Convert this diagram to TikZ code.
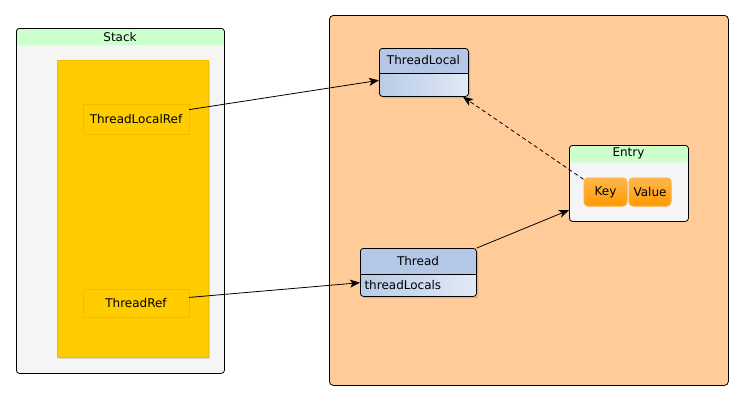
\documentclass[tikz,border=0pt]{standalone}
\usepackage{fontspec}
\setmainfont{DejaVu Sans}
\usetikzlibrary{arrows.meta,shadows}
\definecolor{stackgray}{HTML}{F5F5F5}
\definecolor{headgreen}{HTML}{CCFFCC}
\definecolor{refyellow}{HTML}{FFCC00}
\definecolor{refedge}{HTML}{EEBE00}
\definecolor{heaporange}{HTML}{FFCC99}
\definecolor{classhead}{HTML}{B4C7E7}
\definecolor{classlo}{HTML}{B8CBE6}
\definecolor{classhi}{HTML}{E2EAF6}
\definecolor{fieldtop}{HTML}{FFB84D}
\definecolor{fieldbot}{HTML}{FF9900}
\definecolor{fieldedge}{HTML}{FFB040}
\tikzset{
  frame/.style={draw, rectangle, rounded corners=3, line width=0.8pt, anchor=north west},
  headed/.style 2 args={path picture={\fill[#1] (path picture bounding box.north west) rectangle ([yshift=-#2]path picture bounding box.north east);}},
  region/.style={draw=refedge, fill=refyellow, anchor=north west, drop shadow={shadow xshift=1.5pt, shadow yshift=-1.5pt, opacity=0.25}},
  refbox/.style={draw=refedge, fill=refyellow, minimum width=106pt, minimum height=30pt},
  classbox/.style={draw, rectangle, rounded corners=3, line width=0.8pt, left color=classlo, right color=classhi, anchor=north west, drop shadow={shadow xshift=2pt, shadow yshift=-2pt, opacity=0.3}},
  fieldbox/.style={draw=fieldedge, line width=1pt, rounded corners=4, top color=fieldtop, bottom color=fieldbot, minimum height=28pt, inner sep=0pt},
  link/.style={-{Stealth[length=10pt,width=8pt,inset=2.5pt]}, line width=0.8pt}
}
\begin{document}
\begin{tikzpicture}[x=1pt, y=-1pt, font=\fontsize{12pt}{14pt}\selectfont]
    \useasboundingbox (0,0) rectangle (743,402);
    % stack side
    \node[frame, fill=stackgray, headed={headgreen}{17pt}, minimum width=208pt, minimum height=345pt] (stack) at (16,28) {};
    \node (stacklabel) at (120,37) {Stack};
    \node[region, minimum width=151pt, minimum height=297pt] (frames) at (57,60) {};
    \node[refbox] (tlref) at (136,119) {ThreadLocalRef};
    \node[refbox, minimum height=28pt] (tref) at (136,303) {ThreadRef};

    % heap side
    \node[frame, fill=heaporange, rounded corners=4, minimum width=399pt, minimum height=370pt] (heap) at (329,15) {};

    \node[classbox, headed={classhead}{25pt}, minimum width=89pt, minimum height=48pt] (tl) at (379,48) {};
    \draw[line width=0.8pt] ([yshift=-25pt]tl.north west) -- ([yshift=-25pt]tl.north east);
    \node (tlname) at (423.5,60.5) {ThreadLocal};

    \node[classbox, headed={classhead}{26pt}, minimum width=116pt, minimum height=48pt] (thread) at (360,248) {};
    \draw[line width=0.8pt] ([yshift=-26pt]thread.north west) -- ([yshift=-26pt]thread.north east);
    \node (threadname) at (418,261) {Thread};
    \node[anchor=west] (tlfield) at (361,285) {threadLocals};

    \node[frame, fill=stackgray, headed={headgreen}{17pt}, minimum width=119pt, minimum height=76pt] (entry) at (569,145) {};
    \node (entrylabel) at (628.5,153) {Entry};
    \node[fieldbox, minimum width=43pt] (key) at (605.5,192) {Key};
    \node[fieldbox, minimum width=42pt] (value) at (650,192) {Value};

    % references
    \draw[link] (tlref.10) -- (tl.190);
    \draw[link] (tref.6) -- (thread.190);
    \draw[link] (thread.north east) -- (entry.204);
    \draw[link, dash pattern=on 4pt off 3pt] (key.150) -- (tl.328);
\end{tikzpicture}
\end{document}
